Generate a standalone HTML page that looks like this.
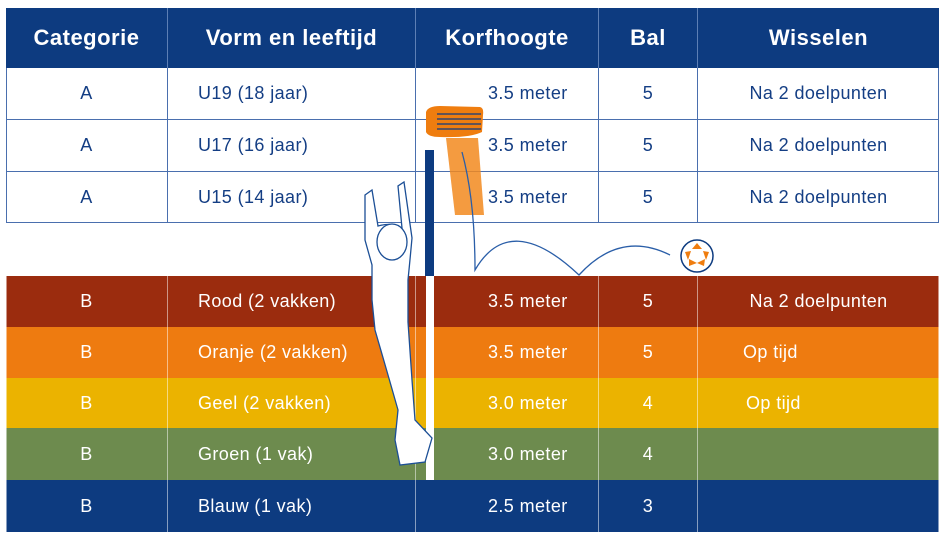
<!DOCTYPE html>
<html><head><meta charset="utf-8"><style>
body{margin:0;width:945px;height:546px;background:#fff;overflow:hidden;position:relative;font-family:"Liberation Sans","DejaVu Sans",sans-serif}
.r{position:absolute;left:6px;width:933px}
.c{position:absolute;top:0;height:100%;display:flex;align-items:center;font-size:18px;letter-spacing:0.4px;white-space:nowrap}
.h .c{color:#fff;font-weight:bold;font-size:22px;letter-spacing:0.5px;justify-content:center}
.vl{position:absolute;top:0;height:100%;width:1px}
</style></head><body>
<div class="r h" style="top:8px;height:60px;background:#0d3b80">
 <div class="c" style="left:0;width:161px">Categorie</div>
 <div class="c" style="left:162px;width:247px">Vorm en leeftijd</div>
 <div class="c" style="left:410px;width:182px">Korfhoogte</div>
 <div class="c" style="left:593px;width:98px">Bal</div>
 <div class="c" style="left:692px;width:241px">Wisselen</div>
 <div class="vl" style="left:161px;background:#5d7fb5"></div><div class="vl" style="left:409px;background:#5d7fb5"></div><div class="vl" style="left:592px;background:#5d7fb5"></div><div class="vl" style="left:691px;background:#5d7fb5"></div>
</div>
<div id="rows"></div>
<svg width="945" height="546" style="position:absolute;left:0;top:0">
 <rect x="425" y="150" width="9" height="126" fill="#0d3b80"/>
 <rect x="426" y="276" width="8" height="204" fill="#fff"/>
 <path d="M446 138 L478 138 L484 215 L455 215 Z" fill="#f28a1e" opacity="0.85"/>
 <path d="M426 112 Q428 106 440 106 L480 107 Q484 108 483 115 L482 132 Q470 138 440 137 Q428 137 426 132 Z" fill="#ef7d0f"/>
 <g stroke="#0d3b80" stroke-width="1.2"><line x1="437" y1="114" x2="481" y2="114"/><line x1="437" y1="119" x2="481" y2="119"/><line x1="437" y1="124" x2="481" y2="124"/><line x1="437" y1="129" x2="481" y2="129"/></g>
 <path d="M462 152 Q475 200 475 270 Q510 210 579 275 Q620 230 670 255" fill="none" stroke="#2a5ea8" stroke-width="1.3"/>
 <circle cx="697" cy="256" r="16" fill="#fff" stroke="#0d3b80" stroke-width="1.5"/>
 <g fill="#ef7d0f"><polygon points="697,243 702,249 692,249"/><polygon points="709,252 706,260 703,251"/><polygon points="704,266 697,263 705,259"/><polygon points="689,266 689,259 697,263"/><polygon points="685,252 691,251 688,260"/></g>
 <path d="M365 195 L372 190 L378 226 Q392 222 402 228 L398 186 L404 182 L412 238 Q410 260 408 280 L408 322 L412 380 L415 420 L432 438 L425 462 L400 465 L395 440 L398 410 L388 375 L375 330 L372 300 L372 265 L365 240 Z" fill="#fff" stroke="#1c4f96" stroke-width="1.3"/>
 <ellipse cx="392" cy="242" rx="15" ry="18" fill="#fff" stroke="#1c4f96" stroke-width="1.3"/>
</svg>
<script>
const cats=['A','A','A','B','B','B','B','B'];
const vorm=['U19 (18 jaar)','U17 (16 jaar)','U15 (14 jaar)','Rood (2 vakken)','Oranje (2 vakken)','Geel (2 vakken)','Groen (1 vak)','Blauw (1 vak)'];
const hoogte=['3.5 meter','3.5 meter','3.5 meter','3.5 meter','3.5 meter','3.0 meter','3.0 meter','2.5 meter'];
const bal=['5','5','5','5','5','4','4','3'];
const wissel=['Na 2 doelpunten','Na 2 doelpunten','Na 2 doelpunten','Na 2 doelpunten','Op tijd','Op tijd','',''];
const tops=[68,120,172,276,327,378,428,480];
const hs=[52,52,51,51,51,50,52,52];
const bgs=['#fff','#fff','#fff','#9b2c0e','#ee7b10','#ebb300','#6d8b4e','#0d3b80'];
const host=document.getElementById('rows');
cats.forEach((c,i)=>{
 const r=document.createElement('div');
 
 
 r.className='r';
 const white=i<3, fg=white?'#143e84':'#fff', ln=white?'#4a6fae':'rgba(255,255,255,0.5)';
 r.style.cssText=`top:${tops[i]}px;height:${hs[i]}px;background:${bgs[i]};color:${fg};`+(white?'border-bottom:1px solid #4a6fae;box-sizing:border-box;':'');
 const wc=wissel[i].startsWith('Op')?`left:${i==4?737:740}px;width:200px`:'left:692px;width:241px;justify-content:center';
 r.innerHTML=`<div class="c" style="left:0;width:161px;justify-content:center">${c}</div>
 <div class="c" style="left:192px">${vorm[i]}</div>
 <div class="c" style="left:482px">${hoogte[i]}</div>
 <div class="c" style="left:593px;width:98px;justify-content:center">${bal[i]}</div>
 <div class="c" style="${wc}">${wissel[i]}</div>
 <div class="vl" style="left:0;background:${ln}"></div><div class="vl" style="left:161px;background:${ln}"></div><div class="vl" style="left:409px;background:${ln}"></div><div class="vl" style="left:592px;background:${ln}"></div><div class="vl" style="left:691px;background:${ln}"></div><div class="vl" style="left:932px;background:${ln}"></div>`;
 host.appendChild(r);
});
</script>
</body></html>
